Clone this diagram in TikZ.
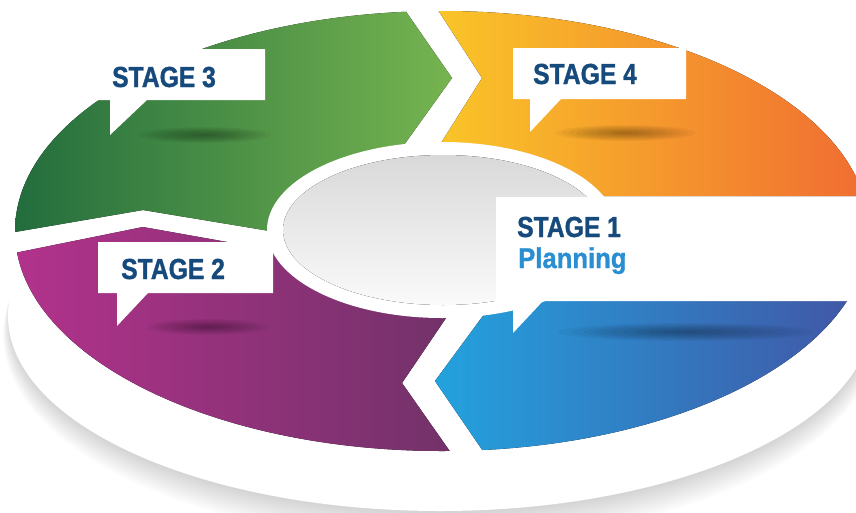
\documentclass[tikz,border=0pt]{standalone}
\usepackage{fontspec}
\newfontfamily\stagefont{Liberation Sans}[FakeStretch=0.85,FakeBold=1.2]
\newfontfamily\planfont{Liberation Sans}[FakeStretch=0.9,FakeBold=1.0]
\definecolor{gA}{RGB}{30,105,60}
\definecolor{gB}{RGB}{118,180,80}
\definecolor{oA}{RGB}{250,200,40}
\definecolor{oB}{RGB}{240,108,50}
\definecolor{pA}{RGB}{182,50,142}
\definecolor{pB}{RGB}{112,50,104}
\definecolor{bA}{RGB}{35,162,222}
\definecolor{bB}{RGB}{66,84,164}
\definecolor{navy}{RGB}{23,74,124}
\definecolor{plan}{RGB}{42,142,210}
\tikzset{
  callout/.style={fill=white},
  stagetext/.style={inner sep=0pt, anchor=base west, text=navy, font=\stagefont\bfseries\fontsize{29}{30}\selectfont},
  plantext/.style={inner sep=0pt, anchor=base west, text=plan, font=\planfont\bfseries\fontsize{28.5}{30}\selectfont},
}
\begin{document}
\begin{tikzpicture}[x=1pt,y=-1pt]
\useasboundingbox (0,0) rectangle (856,512);
% plate shadow
\foreach \k in {1,...,14}
  \fill[black,opacity=0.011] (440,{318+\k*1.2}) ellipse [x radius={(430+\k*0.5)*1pt}, y radius={(193+\k*1.0)*1pt}];
% plate
\fill[white] (442,231) ellipse [x radius=432pt, y radius=225pt];
\fill[white] (440,316) ellipse [x radius=432pt, y radius=195pt];
% coloured ring segments
\begin{scope}
\clip (442,231) ellipse [x radius=427pt, y radius=220pt];
\fill[left color=gA,right color=gB] (-10,-10) -- (391,-10) -- (452,78) -- (386,170) -- (300,236) -- (143,210) -- (15,232) -- (-10,236) -- cycle;
\fill[left color=oA,right color=oB] (425,-10) -- (482,78) -- (424,170) -- (600,196) -- (870,196) -- (870,-10) -- cycle;
\fill[left color=pA,right color=pB] (-10,258) -- (143,227) -- (300,255) -- (465,290) -- (402,383) -- (463,470) -- (-10,470) -- cycle;
\fill[left color=bA,right color=bB] (502,290) -- (435,381) -- (496,470) -- (870,470) -- (870,290) -- cycle;
% callout shadows
\foreach \k in {1,...,10} {
  \fill[black,opacity=0.035] (205,135) ellipse [x radius={(66*\k/10)*1pt}, y radius={(8*\k/10)*1pt}];
  \fill[black,opacity=0.035] (625,133) ellipse [x radius={(70*\k/10)*1pt}, y radius={(8*\k/10)*1pt}];
  \fill[black,opacity=0.035] (208,327) ellipse [x radius={(62*\k/10)*1pt}, y radius={(8*\k/10)*1pt}];
  \fill[black,opacity=0.035] (686,332) ellipse [x radius={(128*\k/10)*1pt}, y radius={(9*\k/10)*1pt}];
}
\end{scope}
% centre hole
\fill[white] (442,230) ellipse [x radius=175pt, y radius=88pt];
\fill[top color=black!15, middle color=black!8, bottom color=black!2] (443,230) ellipse [x radius=160pt, y radius=75pt];
% callouts
\fill[callout] (95,49) -- (265,49) -- (265,100) -- (147,100) -- (110,135) -- (110,100) -- (95,100) -- cycle;
\fill[callout] (513,48) -- (686,48) -- (686,99) -- (561,99) -- (530,132) -- (530,99) -- (513,99) -- cycle;
\fill[callout] (98,242) -- (273,242) -- (273,293) -- (148,293) -- (117,326) -- (117,293) -- (98,293) -- cycle;
\fill[callout] (496,197) -- (870,197) -- (870,301) -- (543,301) -- (513,333) -- (513,301) -- (496,301) -- cycle;
% labels
\node[stagetext] (s3) at (112,87) {STAGE 3};
\node[stagetext] (s4) at (533,84) {STAGE 4};
\node[stagetext] (s2) at (121,279) {STAGE 2};
\node[stagetext] (s1) at (517,237) {STAGE 1};
\node[plantext] (p1) at (518,268) {Planning};
\end{tikzpicture}
\end{document}
